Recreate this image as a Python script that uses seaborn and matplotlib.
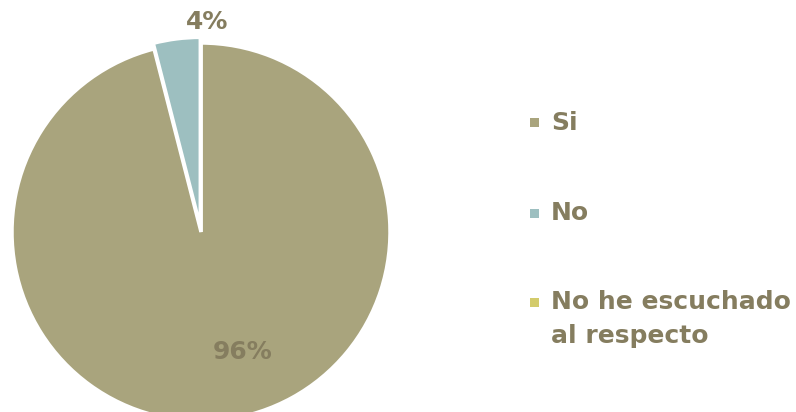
import matplotlib
matplotlib.use("Agg")
import matplotlib.pyplot as plt
from matplotlib.patches import Rectangle
import seaborn as sns

categorias = ["Si", "No", "No he escuchado\nal respecto"]
valores = [96, 4, 0]
colores = ["#A9A47D", "#9DBFC0", "#D3CB6B"]
etiquetas = ["96%", "4%", ""]

sns.set_theme(style="white")
plt.rcParams["font.family"] = ["DejaVu Sans"]
texto = "#857D5F"

fig = plt.figure(figsize=(7.96, 4.12), dpi=100)
W, H = 796, 412
cx, cy, r = 201, 232, 189
ax = fig.add_axes([(cx - r) / W, (H - cy - r) / H, 2 * r / W, 2 * r / H])

wedges, _ = ax.pie(
    valores,
    colors=colores,
    startangle=90,
    counterclock=False,
    explode=[0, 0.03, 0],
    wedgeprops=dict(edgecolor="white", linewidth=2.5),
)
ax.set_xlim(-1, 1)
ax.set_ylim(-1, 1)
ax.set_aspect("equal")
ax.axis("off")

# percentage labels
ax.text(0.22, -0.635, etiquetas[0], ha="center", va="center",
        fontsize=18, fontweight="bold", color=texto)
ax.text(0.03, 1.11, etiquetas[1], ha="center", va="center",
        fontsize=18, fontweight="bold", color=texto)

# legend: small colour square followed by the category name
filas_y = [123, 213, 302]   # centre of the first text line, px from top
caja = 9
for nombre, color, fy in zip(categorias, colores, filas_y):
    fig.add_artist(Rectangle((530 / W, 1 - (fy + caja / 2) / H), caja / W, caja / H,
                             transform=fig.transFigure, facecolor=color,
                             edgecolor="none"))
    fig.text(551 / W, 1 - (fy - 12) / H, nombre, ha="left", va="top",
             fontsize=18, fontweight="bold", color=texto, linespacing=1.55)

fig.savefig("out.png", dpi=100)
